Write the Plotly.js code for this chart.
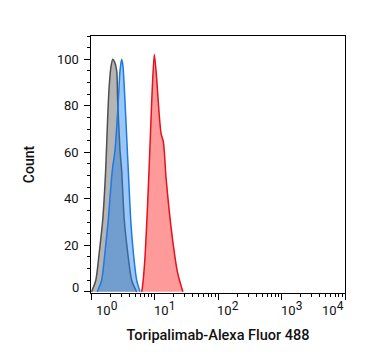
<!DOCTYPE html>
<html>
<head>
<meta charset="utf-8">
<script src="https://cdn.plot.ly/plotly-3.0.1.min.js"></script>
<style>html,body{margin:0;padding:0;background:#fff;}#chart{width:367px;height:364px;}</style>
</head>
<body>
<div id="chart"></div>
<script>
// Fluorescence intensity (x) and count (y) for each histogram
const grayX  = [1.02, 1.19, 1.35, 1.53, 1.70, 1.83, 1.94, 2.07, 2.20, 2.34, 2.54, 2.63, 2.86, 3.04, 3.34, 3.78, 4.37, 5.24];
const grayY  = [0, 5, 17, 31, 52, 75, 89, 97, 100, 99, 95, 82, 61, 52, 31, 17, 5, 0];
const blueX  = [1.25, 1.30, 1.47, 1.66, 1.87, 2.16, 2.39, 2.69, 2.86, 3.04, 3.19, 3.43, 3.73, 3.87, 4.22, 4.64, 5.24, 5.91];
const blueY  = [0, 1, 5, 17, 31, 52, 61, 82, 95, 100, 97, 82, 61, 52, 31, 17, 5, 0];
const redX   = [6.29, 6.52, 7.01, 7.70, 8.50, 9.14, 9.93, 10.8, 11.8, 12.7, 13.8, 15.2, 17.1, 19.8, 22.9, 26.8, 28.1];
const redY   = [0, 3, 13, 34.5, 63, 85, 102, 92, 77, 68, 64.5, 49, 34.5, 20, 8.7, 1.7, 0];
const xTickVals  = [0, 1, 2, 3, 4];
const xTickBase  = ['10', '10', '10', '10', '10'];
const xTickExp   = ['0', '1', '2', '3', '4'];
const yTickVals  = [0, 20, 40, 60, 80, 100];
const yTickTexts = ['0', '20', '40', '60', '80', '100'];

const font = 'Roboto, "Noto Sans", sans-serif';

function trace(x, y, line, fill) {
  return {x: x, y: y, type: 'scatter', mode: 'lines', fill: 'tozeroy',
          line: {color: line, width: 1.5, shape: 'spline', smoothing: 0.7},
          fillcolor: fill, hoverinfo: 'skip', showlegend: false};
}

const data = [
  trace(grayX, grayY, '#505050', 'rgba(120,120,120,0.55)'),
  trace(blueX, blueY, '#1c7ae0', 'rgba(30,130,240,0.45)'),
  trace(redX, redY, '#e3121c', 'rgba(255,40,40,0.47)')
];

const xAnn = xTickVals.map((v, i) => {
  let anchor = 'left', shift = -3;
  if (i === 0) { anchor = 'left'; shift = 3; }
  if (i === xTickVals.length - 1) { anchor = 'right'; shift = 1; }
  return {x: v, y: 0, xref: 'x', yref: 'paper', yanchor: 'top', xanchor: anchor,
          xshift: shift, yshift: -4, showarrow: false,
          text: xTickBase[i] + '<sup><span style="font-size:12px">' + xTickExp[i] + '</span></sup>',
          font: {family: font, size: 13, color: '#111'}};
});
const yAnn = yTickVals.map((v, i) => ({
  x: 0, y: v, xref: 'paper', yref: 'y', xanchor: 'right', yanchor: 'middle',
  xshift: -10, yshift: i === 0 ? 4 : 0, showarrow: false, text: yTickTexts[i],
  font: {family: font, size: 13, color: '#111'}
}));

const layout = {
  width: 367, height: 364,
  margin: {l: 91, r: 22, t: 36, b: 71, pad: 0},
  paper_bgcolor: '#fff', plot_bgcolor: '#fff',
  font: {family: font, size: 13, color: '#111'},
  xaxis: {
    type: 'log', range: [0, 4], tickvals: xTickVals.map(v => Math.pow(10, v)),
    showticklabels: false, ticks: 'outside', ticklen: 6, tickwidth: 1, tickcolor: '#000',
    showline: true, linecolor: '#000', linewidth: 1, mirror: true, showgrid: false, zeroline: false,
    minor: {ticks: 'outside', ticklen: 3, tickwidth: 1, tickcolor: '#000', dtick: 'D1', showgrid: false},
    title: {text: 'Toripalimab-Alexa Fluor 488', font: {family: font, size: 14.5, weight: 500, color: '#111'}, standoff: 30}
  },
  yaxis: {
    range: [-0.5, 110], tickvals: yTickVals, showticklabels: false, ticks: 'outside', ticklen: 6, tickwidth: 1, tickcolor: '#000',
    showline: true, linecolor: '#000', linewidth: 1, mirror: true, showgrid: false, zeroline: false,
    minor: {ticks: 'outside', ticklen: 3, tickwidth: 1, tickcolor: '#000', dtick: 5, showgrid: false},
    title: {text: 'Count', font: {family: font, size: 14, weight: 500, color: '#111'}, standoff: 46}
  },
  annotations: xAnn.concat(yAnn)
};

Plotly.newPlot('chart', data, layout, {staticPlot: true, displayModeBar: false});
</script>
</body>
</html>
